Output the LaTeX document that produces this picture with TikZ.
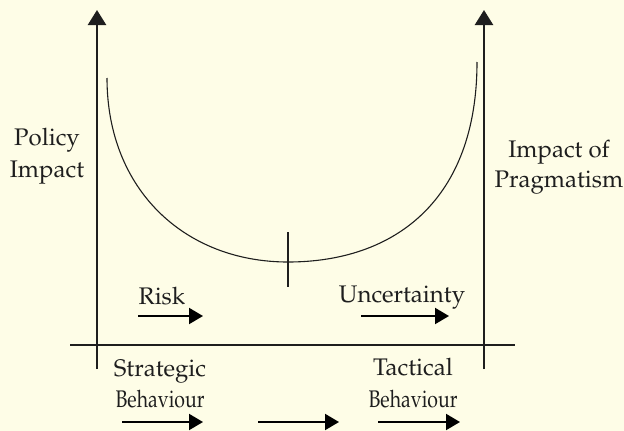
\documentclass[tikz,border=0pt]{standalone}
\usepackage[T1]{fontenc}
\usepackage{mathpazo}
\usetikzlibrary{arrows.meta}
\definecolor{bgcream}{RGB}{254,253,231}
\definecolor{ink}{RGB}{30,30,30}
\begin{document}
\begin{tikzpicture}[x=1pt,y=-1pt,
  lbl/.style={inner sep=0pt,anchor=base,text=ink,font=\fontsize{24}{30}\selectfont},
  axisline/.style={line width=2.4pt,draw=ink},
  axisarrow/.style={axisline,-{Triangle[length=15pt,width=18pt]}},
  dirarrow/.style={line width=2pt,draw=black,-{Triangle[length=14pt,width=16pt]}},
  curveline/.style={line width=1.1pt,draw=ink},
]
\fill[bgcream] (0,0) rectangle (624,431);
\useasboundingbox (0,0) rectangle (624,431);
% axes
\coordinate (lbot) at (97,369);
\coordinate (ltop) at (97,10);
\coordinate (rbot) at (484,369);
\coordinate (rtop) at (484,10);
\coordinate (hl) at (70,345);
\coordinate (hr) at (515,345);
\draw[axisarrow] (lbot) -- (ltop);
\draw[axisarrow] (rbot) -- (rtop);
\draw[axisline] (hl) -- (hr);
% U curve
\coordinate (cstart) at (107,78);
\coordinate (cmid) at (288,262);
\coordinate (cend) at (477,62);
\draw[curveline] (cstart) .. controls (107,190) and (185,262) .. (cmid)
  .. controls (395,262) and (477,200) .. (cend);
% tick
\coordinate (ttop) at (288,232);
\coordinate (tbot) at (288,287);
\draw[line width=1.6pt,draw=ink] (ttop) -- (tbot);
% labels
\node[lbl] (pol1) at (47,145) {Policy};
\node[lbl] (pol2) at (47,177) {Impact};
\node[lbl] (prag1) at (559,157) {Impact of};
\node[lbl] (prag2) at (559,187) {Pragmatism};
\node[lbl] (risk) at (162,304) {Risk};
\node[lbl] (unc) at (402,302) {Uncertainty};
\node[lbl] (str1) at (160,376) {Strategic};
\node[lbl] (str2) at (160,407) {\scalebox{0.81}[1]{Behaviour}};
\node[lbl] (tac1) at (413,375) {Tactical};
\node[lbl] (tac2) at (413,407) {\scalebox{0.81}[1]{Behaviour}};
% direction arrows
\coordinate (ra1) at (138,316);
\coordinate (ra2) at (203,316);
\coordinate (ua1) at (361,316);
\coordinate (ua2) at (449,316);
\coordinate (b1a) at (122,422);
\coordinate (b1b) at (203,422);
\coordinate (b2a) at (258,422);
\coordinate (b2b) at (339,422);
\coordinate (b3a) at (378,422);
\coordinate (b3b) at (460,422);
\draw[dirarrow] (ra1) -- (ra2);
\draw[dirarrow] (ua1) -- (ua2);
\draw[dirarrow] (b1a) -- (b1b);
\draw[dirarrow] (b2a) -- (b2b);
\draw[dirarrow] (b3a) -- (b3b);
\end{tikzpicture}
\end{document}
